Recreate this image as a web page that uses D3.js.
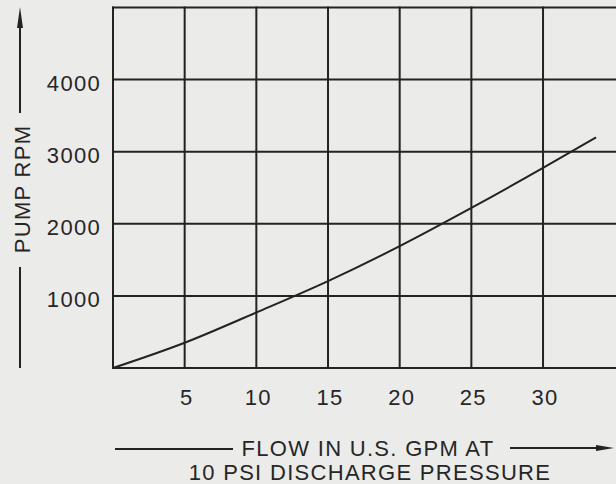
<!DOCTYPE html>
<html>
<head>
<meta charset="utf-8">
<script src="https://cdn.jsdelivr.net/npm/d3@7/dist/d3.min.js"></script>
<style>
  html, body { margin: 0; padding: 0; background: #ebebe9; }
  svg { display: block; }
  text { font-family: "Liberation Sans", Arial, Helvetica, sans-serif; fill: #262626; letter-spacing: 1.3px; }
</style>
</head>
<body>
<svg id="chart" width="616" height="484"></svg>
<script>
// Data
const flowGpm = [0, 5, 10, 15, 20, 25, 30, 33.7];
const pumpRpm = [0, 350, 770, 1205, 1690, 2220, 2775, 3200];
const xGridValues = [0, 5, 10, 15, 20, 25, 30];
const yGridValues = [0, 1000, 2000, 3000, 4000, 5000];
const xTickLabels = [5, 10, 15, 20, 25, 30];
const yTickLabels = [1000, 2000, 3000, 4000];
const xTitleLine1 = "FLOW IN U.S. GPM AT";
const xTitleLine2 = "10 PSI DISCHARGE PRESSURE";
const yTitle = "PUMP RPM";

const svg = d3.select("#chart");
const ink = "#232323";

const x = d3.scaleLinear().domain([0, 35]).range([113, 614.7]);
const y = d3.scaleLinear().domain([0, 5000]).range([368, 7.5]);

// Grid
const grid = svg.append("g");
grid.selectAll("line.v").data(xGridValues).join("line")
  .attr("x1", d => x(d)).attr("x2", d => x(d))
  .attr("y1", y(0) + 1).attr("y2", y(5000) - 1)
  .attr("stroke", ink).attr("stroke-width", 2);
grid.selectAll("line.h").data(yGridValues).join("line")
  .attr("x1", x(0) - 1).attr("x2", 616)
  .attr("y1", d => y(d)).attr("y2", d => y(d))
  .attr("stroke", ink).attr("stroke-width", 2);

// Curve
const pts = flowGpm.map((f, i) => [f, pumpRpm[i]]);
svg.append("path")
  .datum(pts)
  .attr("fill", "none")
  .attr("stroke", ink)
  .attr("stroke-width", 2)
  .attr("d", d3.line().x(d => x(d[0])).y(d => y(d[1])).curve(d3.curveMonotoneX));

// Tick labels
svg.selectAll("text.xt").data(xTickLabels).join("text")
  .attr("x", d => x(d) + 2).attr("y", 405)
  .attr("text-anchor", "middle")
  .attr("font-size", 22)
  .text(d => d);
svg.selectAll("text.yt").data(yTickLabels).join("text")
  .attr("x", 101).attr("y", d => y(d) + 11)
  .attr("text-anchor", "end")
  .attr("font-size", 22)
  .text(d => d);

// Axis titles
svg.append("text")
  .attr("x", 368).attr("y", 456)
  .attr("text-anchor", "middle")
  .attr("font-size", 22)
  .text(xTitleLine1);
svg.append("text")
  .attr("x", 370).attr("y", 480)
  .attr("text-anchor", "middle")
  .attr("font-size", 22)
  .text(xTitleLine2);
svg.append("text")
  .attr("transform", "translate(30,189) rotate(-90)")
  .attr("text-anchor", "middle")
  .attr("font-size", 22)
  .text(yTitle);

// Arrow lines
const arrows = svg.append("g").attr("stroke", ink).attr("stroke-width", 2);
// x title left rule
arrows.append("line").attr("x1", 115).attr("x2", 233).attr("y1", 449).attr("y2", 449);
// x title right rule with arrow
arrows.append("line").attr("x1", 510).attr("x2", 600).attr("y1", 448).attr("y2", 448);
svg.append("path").attr("d", "M596,445 L614,448 L596,451 Z").attr("fill", ink);
// y title upper rule with arrow
arrows.append("line").attr("x1", 20).attr("x2", 20).attr("y1", 113).attr("y2", 24);
svg.append("path").attr("d", "M17,28 L20,7 L23,28 Z").attr("fill", ink);
// y title lower rule
arrows.append("line").attr("x1", 20).attr("x2", 20).attr("y1", 267).attr("y2", 368);
</script>
</body>
</html>
